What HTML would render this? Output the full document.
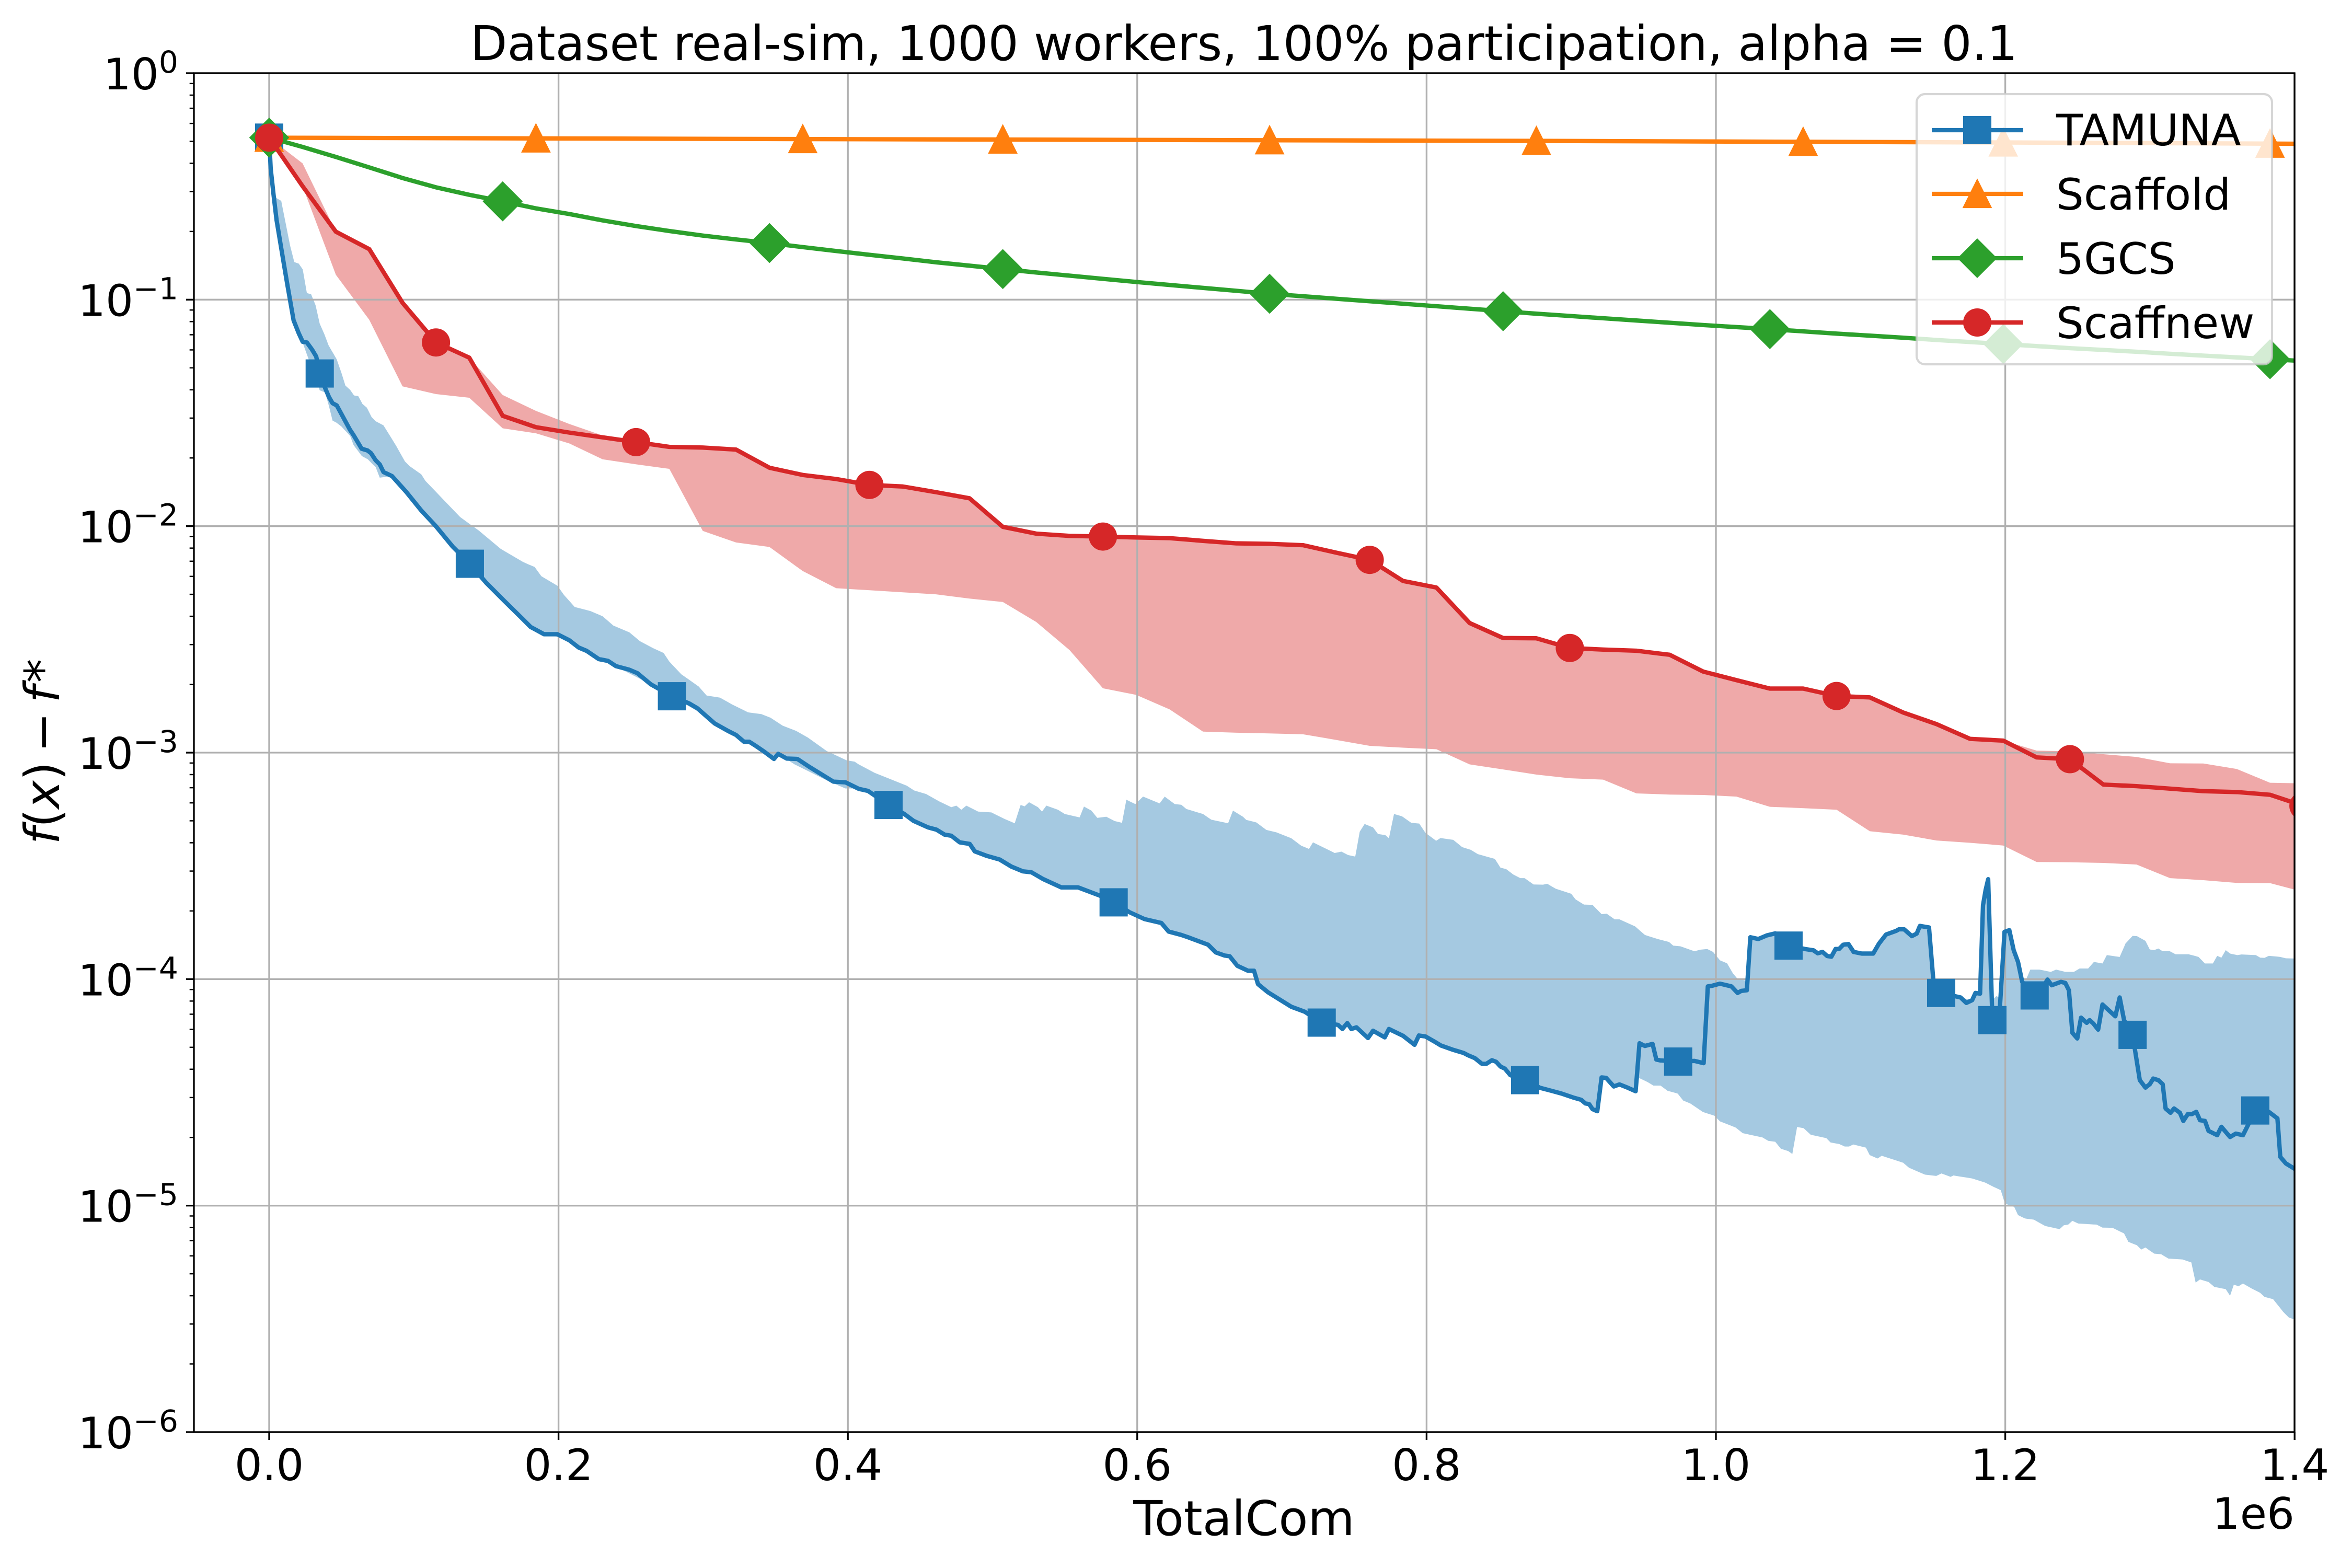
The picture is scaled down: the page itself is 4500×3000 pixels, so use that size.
<!DOCTYPE html>
<html lang="en">
<head>
<meta charset="utf-8">
<title>Dataset real-sim convergence chart</title>
<style>
html,body{margin:0;padding:0;background:#fff}
svg{display:block}
text{font-family:"DejaVu Sans","Liberation Sans",sans-serif;fill:#000}
</style>
</head>
<body>
<svg id="chart" xmlns="http://www.w3.org/2000/svg" width="4500" height="3000" viewBox="0 0 4500 3000">
  <defs><clipPath id="plot-clip"><rect x="371" y="140" width="4019" height="2600"/></clipPath></defs>
  <rect x="0" y="0" width="4500" height="3000" fill="#fff"/>
  <g id="band-layer" clip-path="url(#plot-clip)"></g>
  <g id="grid-layer"></g>
  <g id="line-layer" clip-path="url(#plot-clip)"></g>
  <g id="tick-layer"></g>
  <g fill="none" stroke="#000" stroke-width="3.33">
    <rect x="371" y="140" width="4019" height="2600"/>
  </g>
  <text x="2380" y="115" font-size="91.67" text-anchor="middle">Dataset real-sim, 1000 workers, 100% participation, alpha = 0.1</text>
  <text x="2380" y="2937" font-size="91.67" text-anchor="middle">TotalCom</text>
  <text x="4390" y="2925" font-size="83.33" text-anchor="end">1e6</text>
  <text transform="translate(113,1438) rotate(-90)" font-size="91.67" text-anchor="middle"><tspan font-style="italic">f</tspan><tspan>(</tspan><tspan font-style="italic">x</tspan><tspan>)</tspan><tspan dx="18">−</tspan><tspan dx="18" font-style="italic">f</tspan><tspan dx="6">*</tspan></text>
  <g>
    <rect x="3667" y="180" width="680" height="517" rx="16" ry="16" fill="#fff" fill-opacity="0.8" stroke="#ccc" stroke-opacity="0.8" stroke-width="4.17"/>
    <g>
      <line x1="3696" y1="249" x2="3871" y2="249" stroke="#1f77b4" stroke-width="8.33"/>
      <rect x="3756" y="222" width="54" height="54" fill="#1f77b4"/>
      <text x="3934" y="278" font-size="83.33">TAMUNA</text>
    </g>
    <g>
      <line x1="3696" y1="371" x2="3871" y2="371" stroke="#ff7f0e" stroke-width="8.33"/>
      <polygon points="3783,346 3808,396 3758,396" fill="#ff7f0e" stroke="#ff7f0e" stroke-width="4.17"/>
      <text x="3934" y="401" font-size="83.33">Scaffold</text>
    </g>
    <g>
      <line x1="3696" y1="494" x2="3871" y2="494" stroke="#2ca02c" stroke-width="8.33"/>
      <polygon points="3783,459 3818,494 3783,529 3748,494" fill="#2ca02c" stroke="#2ca02c" stroke-width="4.17"/>
      <text x="3934" y="524" font-size="83.33">5GCS</text>
    </g>
    <g>
      <line x1="3696" y1="617" x2="3871" y2="617" stroke="#d62728" stroke-width="8.33"/>
      <circle cx="3783" cy="617" r="27" fill="#d62728"/>
      <text x="3934" y="647" font-size="83.33">Scaffnew</text>
    </g>
  </g>
</svg>
<script>
// All y series hold log10(f(x) - f*). x is TotalCom in units of 1e6.
const xTickValues = [0, 0.2, 0.4, 0.6, 0.8, 1.0, 1.2, 1.4];
const xTickLabels = ['0.0', '0.2', '0.4', '0.6', '0.8', '1.0', '1.2', '1.4'];
const yTickExponents = [0, -1, -2, -3, -4, -5, -6];
const yMinorMultipliers = [2, 3, 4, 5, 6, 7, 8, 9];

const scaffnewX = [0,.0231,.0461,.0692,.0922,.1153,.1383,.1614,.1844,.2075,.2305,.2536,.2766,.2997,.3227,.3458,.3688,.3919,.4149,.438,.461,.4841,.5071,.5302,.5532,.5763,.5993,.6224,.6454,.6685,.6915,.7146,.7376,.7607,.7837,.8068,.8298,.8529,.8759,.899,.922,.9451,.9681,.9912,1.0142,1.0373,1.0603,1.0834,1.1064,1.1295,1.1525,1.1756,1.1986,1.2217,1.2447,1.2678,1.2908,1.3139,1.3369,1.36,1.383,1.4061];
const scaffnewY = [-.2846,-.499,-.70,-.777,-1.014,-1.189,-1.256,-1.513,-1.563,-1.587,-1.608,-1.629,-1.65,-1.653,-1.662,-1.742,-1.774,-1.792,-1.818,-1.825,-1.85,-1.877,-2.003,-2.033,-2.043,-2.046,-2.05,-2.053,-2.065,-2.076,-2.078,-2.084,-2.117,-2.149,-2.242,-2.271,-2.428,-2.494,-2.495,-2.538,-2.545,-2.55,-2.568,-2.642,-2.68,-2.717,-2.717,-2.75,-2.756,-2.823,-2.874,-2.939,-2.947,-3.021,-3.029,-3.141,-3.148,-3.159,-3.17,-3.174,-3.186,-3.235];
const scaffnewUpper = [-.2846,-.398,-.70,-.777,-1.014,-1.189,-1.256,-1.421,-1.491,-1.549,-1.60,-1.629,-1.65,-1.653,-1.662,-1.742,-1.774,-1.792,-1.818,-1.825,-1.85,-1.877,-2.003,-2.033,-2.043,-2.046,-2.05,-2.053,-2.065,-2.076,-2.078,-2.084,-2.117,-2.149,-2.242,-2.271,-2.428,-2.494,-2.495,-2.538,-2.545,-2.55,-2.568,-2.642,-2.68,-2.717,-2.717,-2.75,-2.756,-2.823,-2.874,-2.939,-2.947,-2.991,-2.994,-3.007,-3.019,-3.047,-3.048,-3.072,-3.133,-3.136];
const scaffnewLower = [-.2846,-.499,-.89,-1.089,-1.383,-1.417,-1.433,-1.568,-1.59,-1.635,-1.705,-1.727,-1.747,-2.021,-2.072,-2.092,-2.198,-2.274,-2.283,-2.292,-2.301,-2.32,-2.335,-2.423,-2.547,-2.716,-2.745,-2.809,-2.907,-2.912,-2.915,-2.919,-2.944,-2.97,-2.978,-2.985,-3.052,-3.074,-3.097,-3.113,-3.119,-3.18,-3.185,-3.187,-3.194,-3.239,-3.245,-3.252,-3.347,-3.362,-3.388,-3.398,-3.41,-3.483,-3.484,-3.487,-3.494,-3.554,-3.563,-3.575,-3.576,-3.615];
const scaffnewMarkerIndex = [0,5,11,18,25,33,39,47,54,61];

const gcsX = scaffnewX;
const gcsY = [-.2846,-.3257,-.37,-.416,-.463,-.504,-.537,-.566,-.597,-.622,-.65,-.675,-.697,-.717,-.734,-.75,-.768,-.785,-.802,-.818,-.835,-.85,-.865,-.88,-.894,-.908,-.922,-.935,-.948,-.961,-.974,-.985,-.996,-1.007,-1.018,-1.029,-1.04,-1.051,-1.062,-1.072,-1.082,-1.092,-1.102,-1.112,-1.121,-1.13,-1.14,-1.15,-1.159,-1.168,-1.178,-1.187,-1.196,-1.205,-1.214,-1.222,-1.23,-1.239,-1.247,-1.255,-1.263,-1.271];
const gcsMarkerIndex = [0,7,15,22,30,37,45,52,60];

const scaffoldX = [0,.1844,.3688,.5071,.6915,.8759,1.0603,1.1986,1.383,1.4061];
const scaffoldY = [-.285,-.288,-.291,-.293,-.296,-.299,-.303,-.306,-.311,-.312];
const scaffoldMarkerIndex = [0,1,2,3,4,5,6,7,8];

const tamunaX = [0,.00106,.003,.0051,.0083,.01236,.01687,.0204,.02316,.02606,.0296,.0325,.03494,.03865,.0414,.0438,.0467,.0559,.0583,.0639,.068,.0704,.0736,.0764,.079,.0849,.0949,.105,.1152,.1268,.1387,.15,.1625,
.1752,.1807,.19,.1992,.2075,.2139,.2195,.2278,.2342,.2397,.249,.2545,.2637,.2784,.2904,.296,.3024,.3079,.3171,.3227,.3282,.3319,.3356,.342,.3489,.3518,.3577,.3651,.3734,.39,.3983,.4075,.4139,.4281,.4388,.4453,
.4554,.4612,.4669,.4715,.4773,.4842,.4877,.4957,.5049,.513,.521,.5268,.5349,.5475,.5591,.574,.5837,.5948,.6051,.6167,.6217,.6305,.6351,.649,.6543,.6605,.6639,.6692,.6766,.6807,.6835,.6904,.7065,.7158,.7275,.7388,.7418,.7452,.748,.7515,.7595,.763,.7711,.774,.7837,
.7917,.7947,.7992,.805,.8099,.8178,.8256,.8286,.8334,.8383,.8413,.8452,.8481,.8511,.8541,.8579,.8681,.8785,.8863,.8932,.902,.9069,.9098,.9124,.9147,.918,.921,.9241,.9294,.9333,.9392,.9445,.9472,.9509,.9562,.9588,.9617,.9739,.9852,.9915,.9944,.997,1.0028,1.0107,1.015,1.0175,1.0214,1.0238,1.0293,1.0352,1.041,1.0502,1.0616,1.0675,1.0704,1.0737,1.0769,1.0798,1.0827,1.0851,1.088,1.0916,
1.0952,1.1008,1.1087,1.1127,1.1176,1.1246,1.1265,1.1301,1.1354,1.1388,1.141,1.1473,1.1503,1.1557,1.1691,1.1731,1.1771,1.1794,1.1826,1.1846,1.1864,1.1882,1.1911,1.1963,1.1995,1.2028,1.2058,1.2088,1.2117,1.2203,1.2276,1.2292,1.2321,1.2385,1.2415,1.244,1.2464,1.2498,1.2524,1.2563,1.2583,1.2609,1.2642,1.2672,1.2761,1.2791,1.2821,1.288,1.293,1.2969,1.2999,1.3023,1.3058,1.3088,1.3108,1.3142,1.3167,1.3207,1.3231,1.3262,1.329,1.332,1.3346,1.338,1.3405,1.3465,1.3494,1.3554,1.3594,1.3643,1.3728,1.3822,1.3881,1.3901,1.394,1.3996,1.405];
const tamunaY = [-.2846,-.4215,-.535,-.648,-.772,-.926,-1.091,-1.148,-1.186,-1.189,-1.22,-1.251,-1.326,-1.39,-1.431,-1.457,-1.467,-1.575,-1.598,-1.658,-1.666,-1.678,-1.709,-1.727,-1.761,-1.779,-1.85,-1.93,-2.0,-2.09,-2.166,-2.25,-2.33,
-2.41,-2.445,-2.477,-2.477,-2.504,-2.536,-2.551,-2.587,-2.595,-2.618,-2.634,-2.649,-2.698,-2.751,-2.783,-2.804,-2.84,-2.871,-2.904,-2.922,-2.952,-2.952,-2.967,-2.995,-3.028,-3.005,-3.026,-3.028,-3.063,-3.128,-3.131,-3.16,-3.169,-3.231,-3.27,-3.301,
-3.33,-3.34,-3.362,-3.367,-3.396,-3.403,-3.436,-3.455,-3.472,-3.503,-3.524,-3.528,-3.558,-3.595,-3.595,-3.631,-3.661,-3.705,-3.735,-3.752,-3.79,-3.805,-3.815,-3.848,-3.882,-3.896,-3.899,-3.941,-3.963,-3.963,-4.022,-4.058,-4.122,-4.144,-4.192,-4.202,-4.22,-4.194,-4.22,-4.213,-4.26,-4.228,-4.257,-4.22,-4.25,
-4.29,-4.249,-4.253,-4.274,-4.293,-4.311,-4.326,-4.336,-4.349,-4.374,-4.374,-4.358,-4.365,-4.386,-4.395,-4.424,-4.446,-4.48,-4.493,-4.505,-4.524,-4.533,-4.549,-4.552,-4.574,-4.583,-4.434,-4.436,-4.474,-4.465,-4.48,-4.495,-4.283,-4.295,-4.286,-4.355,-4.359,-4.364,-4.361,-4.371,-4.032,-4.03,-4.02,-4.032,-4.061,-4.052,-4.049,-3.815,-3.823,-3.807,-3.798,-3.852,-3.867,-3.873,-3.886,-3.88,-3.898,-3.901,-3.867,-3.867,-3.848,-3.845,
-3.88,-3.887,-3.887,-3.843,-3.803,-3.787,-3.78,-3.78,-3.81,-3.799,-3.765,-3.772,-4.005,-4.061,-4.081,-4.105,-4.093,-4.061,-4.064,-3.674,-3.607,-3.559,-4.181,-4.123,-3.791,-3.784,-3.872,-3.924,-4.012,-4.072,-4.019,-4.002,-4.027,-4.012,-4.017,-4.049,-4.237,-4.262,-4.17,-4.193,-4.181,-4.196,-4.223,-4.112,-4.164,-4.081,-4.181,-4.246,-4.446,-4.479,-4.464,-4.439,-4.446,-4.464,-4.571,-4.59,-4.571,-4.59,-4.626,-4.596,-4.596,-4.586,-4.623,-4.626,-4.67,-4.689,-4.652,-4.697,-4.682,-4.689,-4.58,-4.586,-4.615,-4.785,-4.814,-4.836,-4.86];
const tamunaMarkerAt = [0,.03494,.1387,.2784,.4281,.5837,.7275,.8681,.9739,1.0502,1.1557,1.1911,1.2203,1.288,1.3728];

// Top edge of the TAMUNA band; the fill always reaches at least up to the line itself.
const tamunaUpperX = [0,.003,.00543,.00833,.01446,.01736,.02043,.02317,.02607,.02897,.03204,.03494,.03817,.04107,.04672,.04994,.05269,.05591,.05866,.06156,.06446,.06753,.07075,.07366,.07898,.08495,.0877,.09382,.09705,.1051,.108,.12,.132,.145,.16,
.1752,.1789,.1835,.1881,.1992,.2038,.2112,.2222,.2305,.2379,.249,.2563,.2655,.2726,.2766,.2849,.2969,.3024,.3116,.3199,.331,.3402,.3466,.3549,.3642,.3725,.3854,.3992,.4047,.4075,.4185,.4407,.4458,
.4542,.4634,.4715,.475,.4784,.4819,.49,.4992,.5084,.5153,.5194,.5222,.5252,.5314,.5342,.5372,.5452,.5499,.5602,.5632,.5683,.5724,.5786,.5844,.5895,.5925,.5987,.604,.6155,.619,.6259,.6305,.634,.6455,.6512,.6628,.6662,.6731,.6754,.6823,.6892,.6962,.7065,.7134,.7187,.7215,.7365,.7411,.7457,.7507,.7538,.7572,.763,.7664,.7715,.774,.7775,.783,
.7894,.7949,.7992,.8066,.8096,.8184,.8246,.8305,.8354,.8472,.8511,.855,.8599,.8648,.8677,.874,.8805,.8834,.8893,.9,.903,.9088,.9147,.921,.9245,.93,.9333,.9441,.9509,.9598,.9676,.9705,.9754,.9852,.9892,.994,.998,1.0028,1.0077,1.0117,1.0146,1.0195,
1.184,1.1909,1.1939,1.1963,1.2117,1.2147,1.2173,1.2236,1.2315,1.2351,1.2415,1.2474,1.2514,1.2573,1.2613,1.2672,1.2702,1.2791,1.2831,1.288,1.291,1.2969,1.2999,1.3029,1.3058,1.3088,1.3138,1.3177,1.3267,1.3336,1.338,1.3435,1.3465,1.3494,1.3524,1.3554,1.3603,1.3633,1.3732,1.3762,1.3792,1.3822,1.3901,1.394,1.3996,1.405];
const tamunaUpperY = [-.2846,-.535,-.553,-.564,-.761,-.834,-.841,-.866,-.971,-.976,-1.024,-1.106,-1.153,-1.202,-1.264,-1.323,-1.379,-1.398,-1.423,-1.426,-1.46,-1.477,-1.518,-1.537,-1.555,-1.616,-1.645,-1.714,-1.735,-1.771,-1.8,-1.88,-1.96,-2.02,-2.10,
-2.157,-2.168,-2.18,-2.221,-2.263,-2.304,-2.357,-2.375,-2.398,-2.439,-2.469,-2.508,-2.539,-2.56,-2.598,-2.654,-2.708,-2.748,-2.757,-2.787,-2.822,-2.83,-2.846,-2.881,-2.904,-2.934,-2.993,-3.034,-3.04,-3.052,-3.089,-3.146,-3.167,
-3.183,-3.216,-3.241,-3.234,-3.252,-3.234,-3.26,-3.264,-3.293,-3.312,-3.231,-3.237,-3.219,-3.241,-3.26,-3.234,-3.252,-3.271,-3.286,-3.238,-3.256,-3.288,-3.283,-3.302,-3.31,-3.208,-3.227,-3.194,-3.224,-3.194,-3.227,-3.23,-3.249,-3.271,-3.296,-3.312,-3.256,-3.283,-3.297,-3.308,-3.341,-3.352,-3.378,-3.411,-3.425,-3.396,-3.443,-3.437,-3.452,-3.459,-3.349,-3.315,-3.33,-3.359,-3.364,-3.378,-3.271,-3.281,
-3.31,-3.313,-3.354,-3.389,-3.377,-3.385,-3.417,-3.429,-3.448,-3.469,-3.508,-3.514,-3.538,-3.554,-3.554,-3.582,-3.583,-3.579,-3.601,-3.623,-3.648,-3.671,-3.672,-3.713,-3.711,-3.736,-3.736,-3.767,-3.805,-3.823,-3.836,-3.852,-3.855,-3.877,-3.87,-3.867,-3.88,-3.917,-3.93,-3.974,-3.996,-4.005,
-4.093,-4.093,-4.075,-4.083,-4.012,-3.997,-3.958,-3.958,-3.968,-3.958,-3.968,-3.968,-3.953,-3.953,-3.924,-3.931,-3.894,-3.902,-3.843,-3.809,-3.81,-3.831,-3.869,-3.872,-3.865,-3.877,-3.877,-3.89,-3.89,-3.902,-3.931,-3.931,-3.897,-3.905,-3.872,-3.887,-3.894,-3.891,-3.894,-3.905,-3.906,-3.897,-3.902,-3.908,-3.909,-3.915];

// Bottom edge of the TAMUNA band; the fill always reaches at least down to the line itself.
const tamunaLowerX = [0,.003,.00639,.00914,.01156,.01398,.0172,.02365,.02688,.03091,.03494,.03865,.0414,.04382,.04672,.04994,.05591,.05833,.06398,.06801,.07366,.0764,.0849,.1152,.1752,.2637,.3024,.3518,.3632,.3743,.3872,.3983,.4056,.4139,
.947,.9529,.9568,.9617,.9666,.9735,.9774,.9823,.9911,.9989,1.0028,1.0136,1.0185,1.0322,1.0362,1.041,1.0449,1.0499,1.0528,1.0561,1.0606,1.0655,1.0763,1.0792,1.0851,1.089,1.092,
1.0949,1.1037,1.1063,1.1117,1.1146,1.1295,1.1335,1.1444,1.1523,1.1559,1.1622,1.1642,1.1771,1.186,1.1919,1.1969,1.1998,1.2062,1.2088,1.2137,1.2197,1.2276,1.2375,1.2405,1.2435,1.2464,1.2504,1.2632,1.2672,1.2741,1.2821,1.2851,1.291,1.294,1.2969,1.3029,1.3078,1.3128,1.3227,1.3286,1.3316,1.3346,1.3405,1.3445,1.3524,1.3554,1.358,1.3613,1.3643,1.3703,1.3762,1.3792,1.3851,1.3921,1.396,1.3996,1.405];
const tamunaLowerY = [-.2846,-.535,-.70,-.844,-.952,-.967,-1.101,-1.199,-1.256,-1.328,-1.4,-1.41,-1.472,-1.534,-1.544,-1.56,-1.601,-1.642,-1.69,-1.704,-1.74,-1.786,-1.779,-2.0,-2.41,-2.698,-2.84,-3.005,-3.052,-3.087,-3.128,-3.158,-3.158,-3.169,
-4.437,-4.455,-4.47,-4.47,-4.493,-4.505,-4.536,-4.549,-4.587,-4.603,-4.628,-4.655,-4.68,-4.699,-4.714,-4.718,-4.749,-4.759,-4.772,-4.653,-4.658,-4.687,-4.702,-4.721,-4.728,-4.739,-4.739,
-4.73,-4.744,-4.777,-4.792,-4.78,-4.811,-4.833,-4.863,-4.869,-4.858,-4.873,-4.867,-4.88,-4.898,-4.917,-4.932,-4.991,-5.006,-5.042,-5.057,-5.062,-5.09,-5.104,-5.087,-5.084,-5.067,-5.079,-5.084,-5.097,-5.098,-5.123,-5.16,-5.175,-5.194,-5.185,-5.212,-5.215,-5.234,-5.238,-5.251,-5.34,-5.326,-5.337,-5.359,-5.369,-5.398,-5.349,-5.356,-5.344,-5.366,-5.385,-5.403,-5.413,-5.469,-5.494,-5.502,-5.53];

const NS = 'http://www.w3.org/2000/svg';
const plotLeft = 371, plotRight = 4390, plotTop = 140, plotBottom = 2740;
const BLUE = '#1f77b4', ORANGE = '#ff7f0e', GREEN = '#2ca02c', RED = '#d62728';

function xScale(v) { return 515 + 2768 * v; }
function yScale(logValue) { return plotTop - 433.33 * logValue; }
function make(tag, parent) {
  const node = document.createElementNS(NS, tag);
  parent.appendChild(node);
  return node;
}
function linePath(xs, ys) {
  return xs.map((v, i) => (i ? 'L' : 'M') + xScale(v).toFixed(1) + ' ' + yScale(ys[i]).toFixed(1)).join('');
}
function interp(xs, ys, v) {
  if (v <= xs[0]) return ys[0];
  for (let i = 1; i < xs.length; i++) {
    if (v <= xs[i]) {
      const t = (v - xs[i - 1]) / (xs[i] - xs[i - 1]);
      return ys[i - 1] + t * (ys[i] - ys[i - 1]);
    }
  }
  return ys[ys.length - 1];
}

const bandLayer = document.getElementById('band-layer');
const gridLayer = document.getElementById('grid-layer');
const lineLayer = document.getElementById('line-layer');
const tickLayer = document.getElementById('tick-layer');

// Shaded bands
const blueXs = Array.from(new Set([].concat(tamunaX, tamunaUpperX, tamunaLowerX))).sort((a, b) => a - b);
const blueTop = blueXs.map(v => Math.max(interp(tamunaUpperX, tamunaUpperY, v), interp(tamunaX, tamunaY, v)));
const blueBottom = blueXs.map(v => Math.min(interp(tamunaLowerX, tamunaLowerY, v), interp(tamunaX, tamunaY, v)));
const blueBand = make('path', bandLayer);


blueBand.setAttribute('fill', BLUE);
blueBand.setAttribute('fill-opacity', '0.4');
blueBand.setAttribute('d', linePath(blueXs, blueTop) + linePath(blueXs.slice().reverse(), blueBottom.slice().reverse()).replace('M', 'L') + 'Z');

const redBand = make('path', bandLayer);


redBand.setAttribute('fill', RED);
redBand.setAttribute('fill-opacity', '0.4');
redBand.setAttribute('d', linePath(scaffnewX, scaffnewUpper) + linePath(scaffnewX.slice().reverse(), scaffnewLower.slice().reverse()).replace('M', 'L') + 'Z');

// Grid and ticks
xTickValues.forEach((v, i) => {
  const px = xScale(v);
  const grid = make('line', gridLayer);
  
  
  grid.setAttribute('x1', px); grid.setAttribute('x2', px);
  grid.setAttribute('y1', plotTop); grid.setAttribute('y2', plotBottom);
  grid.setAttribute('stroke', '#b0b0b0'); grid.setAttribute('stroke-width', '3.33');
  const tick = make('line', tickLayer);
  
  
  tick.setAttribute('x1', px); tick.setAttribute('x2', px);
  tick.setAttribute('y1', plotBottom); tick.setAttribute('y2', plotBottom + 15);
  tick.setAttribute('stroke', '#000'); tick.setAttribute('stroke-width', '3.33');
  const label = make('text', tickLayer);
  
  
  label.setAttribute('x', px); label.setAttribute('y', plotBottom + 92);
  label.setAttribute('font-size', '83.33'); label.setAttribute('text-anchor', 'middle');
  label.textContent = xTickLabels[i];
});
yTickExponents.forEach(exp => {
  const py = yScale(exp);
  const grid = make('line', gridLayer);
  
  
  grid.setAttribute('x1', plotLeft); grid.setAttribute('x2', plotRight);
  grid.setAttribute('y1', py); grid.setAttribute('y2', py);
  grid.setAttribute('stroke', '#b0b0b0'); grid.setAttribute('stroke-width', '3.33');
  const tick = make('line', tickLayer);
  
  
  tick.setAttribute('x1', plotLeft - 15); tick.setAttribute('x2', plotLeft);
  tick.setAttribute('y1', py); tick.setAttribute('y2', py);
  tick.setAttribute('stroke', '#000'); tick.setAttribute('stroke-width', '3.33');
  const label = make('text', tickLayer);
  
  
  label.setAttribute('x', 341); label.setAttribute('y', py + 31);
  label.setAttribute('font-size', '83.33'); label.setAttribute('text-anchor', 'end');
  const base = make('tspan', label);
  base.textContent = '10';
  const sup = make('tspan', label);
  sup.setAttribute('font-size', '58.33'); sup.setAttribute('dy', '-32');
  sup.textContent = exp < 0 ? '\u2212' + (-exp) : String(exp);
  if (exp > -6) {
    yMinorMultipliers.forEach(m => {
      const minorY = yScale(exp - 1 + Math.log10(m));
      const minor = make('line', tickLayer);
      
      
      minor.setAttribute('x1', plotLeft - 8.3); minor.setAttribute('x2', plotLeft);
      minor.setAttribute('y1', minorY); minor.setAttribute('y2', minorY);
      minor.setAttribute('stroke', '#000'); minor.setAttribute('stroke-width', '2.5');
    });
  }
});

// TAMUNA
const tamunaLine = make('path', lineLayer);


tamunaLine.setAttribute('fill', 'none'); tamunaLine.setAttribute('stroke', BLUE);
tamunaLine.setAttribute('stroke-width', '8.33'); tamunaLine.setAttribute('stroke-linejoin', 'round');
tamunaLine.setAttribute('d', linePath(tamunaX, tamunaY));
tamunaMarkerAt.forEach(at => {
  let best = 0;
  tamunaX.forEach((v, i) => { if (Math.abs(v - at) < Math.abs(tamunaX[best] - at)) best = i; });
  const square = make('rect', lineLayer);
  
  
  square.setAttribute('x', xScale(tamunaX[best]) - 27); square.setAttribute('y', yScale(tamunaY[best]) - 27);
  square.setAttribute('width', 54); square.setAttribute('height', 54);
  square.setAttribute('fill', BLUE);
});

// Scaffold
const scaffoldLine = make('path', lineLayer);


scaffoldLine.setAttribute('fill', 'none'); scaffoldLine.setAttribute('stroke', ORANGE);
scaffoldLine.setAttribute('stroke-width', '8.33'); scaffoldLine.setAttribute('stroke-linejoin', 'round');
scaffoldLine.setAttribute('d', linePath(scaffoldX, scaffoldY));
scaffoldMarkerIndex.forEach(i => {
  const cx = xScale(scaffoldX[i]), cy = yScale(scaffoldY[i]);
  const tri = make('polygon', lineLayer);
  
  
  tri.setAttribute('points', cx + ',' + (cy - 25) + ' ' + (cx + 25) + ',' + (cy + 25) + ' ' + (cx - 25) + ',' + (cy + 25));
  tri.setAttribute('fill', ORANGE); tri.setAttribute('stroke', ORANGE); tri.setAttribute('stroke-width', '4.17');
});

// 5GCS
const gcsLine = make('path', lineLayer);


gcsLine.setAttribute('fill', 'none'); gcsLine.setAttribute('stroke', GREEN);
gcsLine.setAttribute('stroke-width', '8.33'); gcsLine.setAttribute('stroke-linejoin', 'round');
gcsLine.setAttribute('d', linePath(gcsX, gcsY));
gcsMarkerIndex.forEach(i => {
  const cx = xScale(gcsX[i]), cy = yScale(gcsY[i]);
  const diamond = make('polygon', lineLayer);
  
  
  diamond.setAttribute('points', cx + ',' + (cy - 35.4) + ' ' + (cx + 35.4) + ',' + cy + ' ' + cx + ',' + (cy + 35.4) + ' ' + (cx - 35.4) + ',' + cy);
  diamond.setAttribute('fill', GREEN); diamond.setAttribute('stroke', GREEN); diamond.setAttribute('stroke-width', '4.17');
});

// Scaffnew
const scaffnewLine = make('path', lineLayer);


scaffnewLine.setAttribute('fill', 'none'); scaffnewLine.setAttribute('stroke', RED);
scaffnewLine.setAttribute('stroke-width', '8.33'); scaffnewLine.setAttribute('stroke-linejoin', 'round');
scaffnewLine.setAttribute('d', linePath(scaffnewX, scaffnewY));
scaffnewMarkerIndex.forEach(i => {
  const dot = make('circle', lineLayer);
  
  
  dot.setAttribute('cx', xScale(scaffnewX[i])); dot.setAttribute('cy', yScale(scaffnewY[i]));
  dot.setAttribute('r', 27);
  dot.setAttribute('fill', RED);
});
</script>
</body>
</html>
